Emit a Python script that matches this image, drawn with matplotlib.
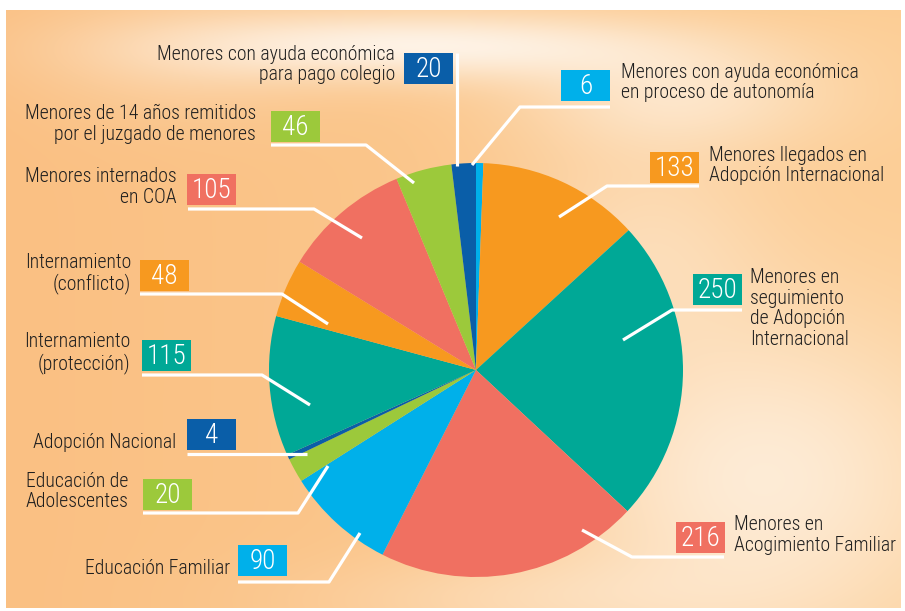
import numpy as np
import matplotlib.pyplot as plt
from matplotlib.patches import Rectangle

plt.rcParams['font.family'] = ['Roboto Condensed', 'Archivo Narrow', 'PT Sans Narrow', 'DejaVu Sans']

# slices, clockwise from twelve o'clock
values = [6, 133, 250, 216, 90, 20, 4, 115, 48, 105, 46, 20]
labels = [
    "Menores con ayuda económica\nen proceso de autonomía",
    "Menores llegados en\nAdopción Internacional",
    "Menores en\nseguimiento\nde Adopción\nInternacional",
    "Menores en\nAcogimiento Familiar",
    "Educación Familiar",
    "Educación de\nAdolescentes",
    "Adopción Nacional",
    "Internamiento\n(protección)",
    "Internamiento\n(conflicto)",
    "Menores internados\nen COA",
    "Menores de 14 años remitidos\npor el juzgado de menores",
    "Menores con ayuda económica\npara pago colegio",
]
colors = ['#00b0ea', '#f7991f', '#00a896', '#f07061', '#00b0ea', '#9cc93b',
          '#0a5ea8', '#00a896', '#f7991f', '#f07061', '#9cc93b', '#0a5ea8']

# label placement in pixels: box corner, text anchor, text side, leader path
layout = [
    ((561, 70), (621, 82.5), 'left', [(472, 165), (520, 107), (610, 107)]),
    ((650, 152), (709, 165.5), 'left', [(559, 217), (607, 186), (699, 186)]),
    ((693, 274), (750, 308.5), 'left', [(623, 340), (672, 310), (742, 310)]),
    ((676, 522), (734, 535), 'left', [(582, 530), (632, 557), (724, 557)]),
    ((238, 545), (230, 569), 'right', [(360, 533), (329, 582), (238, 582)]),
    ((143, 479), (128, 491.5), 'right', [(328, 466), (298, 513), (143, 513)]),
    ((187, 419), (176, 442), 'right', [(307, 454), (187, 454)]),
    ((142, 340), (130, 353), 'right', [(310, 405), (262, 375), (142, 375)]),
    ((140, 260), (131, 273.5), 'right', [(328, 324), (282, 294), (140, 294)]),
    ((187, 174), (177, 187), 'right', [(362, 238), (314, 209), (188, 209)]),
    ((271, 111), (256, 124), 'right', [(414, 183), (366, 145), (271, 145)]),
    ((404, 53), (395, 64.5), 'right', [(457, 166), (457, 53)]),
]

W, H = 905, 611
fig = plt.figure(figsize=(W / 100, H / 100), dpi=100)
ax = fig.add_axes([0, 0, 1, 1])

# warm backdrop with soft light patches
x0, x1, y0, y1 = 6, 900, 10, 608
yy, xx = np.mgrid[y0:y1, x0:x1].astype(float)
left = np.array([250, 192, 131]) / 255
right = np.array([252, 205, 148]) / 255
s = ((xx - x0) / (x1 - x0))[..., None]
base = left * (1 - s) + right * s
glow = np.zeros_like(xx)
for cx, cy, sx, sy, a in [(420, 45, 250, 35, 0.75), (680, 95, 160, 55, 0.45),
                          (760, 480, 210, 170, 0.62), (640, 240, 130, 110, 0.3),
                          (180, 60, 150, 60, 0.2), (520, 600, 220, 45, 0.25)]:
    glow += a * np.exp(-((xx - cx) / sx) ** 2 - ((yy - cy) / sy) ** 2)
glow = np.clip(glow, 0, 0.85)[..., None]
bg = base * (1 - glow) + glow
ax.imshow(bg, extent=[x0, x1, y1, y0], zorder=0, interpolation='bilinear')

# the pie itself; with the y axis flipped, counterclockwise data angles run clockwise on screen
ax.pie(values, colors=colors, startangle=-90, counterclock=True,
       center=(476, 370), radius=207, frame=True,
       wedgeprops=dict(linewidth=0, zorder=1))
ax.set_xlim(0, W)
ax.set_ylim(H, 0)
ax.set_aspect('equal')
ax.axis('off')

bw, bh = 49, 31
for val, lab, col, (box, txt, side, path) in zip(values, labels, colors, layout):
    xs, ys = zip(*path)
    ax.plot(xs, ys, color='white', lw=2.3, solid_capstyle='butt', zorder=3)
    ax.add_patch(Rectangle(box, bw, bh, facecolor=col, edgecolor='none', zorder=4))
    ax.text(box[0] + bw / 2, box[1] + bh / 2 + 1, str(val), color='white',
            fontsize=19.5, fontweight='light', ha='center', va='center', zorder=5)
    ax.text(txt[0], txt[1], lab, color='#1f1f1f', fontsize=14.2, fontweight='light',
            ha=side, va='center', multialignment=side, linespacing=1.1, zorder=5)

fig.savefig('out.png', dpi=100, facecolor='white')
